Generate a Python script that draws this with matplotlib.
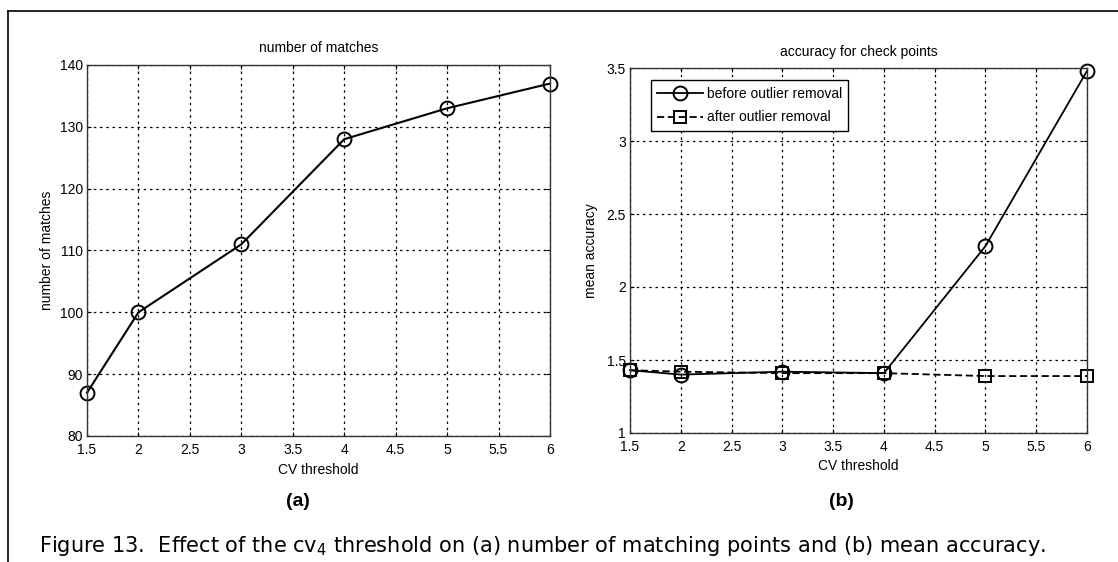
import matplotlib
matplotlib.use('Agg')
import matplotlib.pyplot as plt
from matplotlib.lines import Line2D

# data
cv = [1.5, 2, 3, 4, 5, 6]
matches = [87, 100, 111, 128, 133, 137]
acc_before = [1.43, 1.40, 1.42, 1.41, 2.28, 3.48]
acc_after = [1.43, 1.42, 1.41, 1.41, 1.39, 1.39]
xticks = [1.5, 2, 2.5, 3, 3.5, 4, 4.5, 5, 5.5, 6]
xticklabels = ['1.5', '2', '2.5', '3', '3.5', '4', '4.5', '5', '5.5', '6']

plt.rcParams['font.family'] = ['Liberation Sans Narrow', 'Liberation Sans', 'DejaVu Sans']

fig = plt.figure(figsize=(11.18, 5.62), dpi=100)
W, H = 1118, 562

def axes_px(l, t, r, b):
    return fig.add_axes([l / W, 1 - b / H, (r - l) / W, (b - t) / H])

def style(ax):
    ax.grid(True, color='black', linestyle=(0, (2, 3)), linewidth=0.9)
    ax.tick_params(direction='in', length=3, top=True, right=True, labelsize=10)
    ax.tick_params(axis='x', pad=5)
    ax.tick_params(axis='y', pad=3)
    for s in ax.spines.values():
        s.set_linewidth(1.0)
        s.set_color('#333333')
    ax.set_xticks(xticks)
    ax.set_xticklabels(xticklabels)
    ax.set_xlim(1.5, 6)

ax1 = axes_px(87, 65, 550, 436)
ax1.plot(cv, matches, color='black', lw=1.5, marker='o', ms=10, mfc='none', mec='black', mew=1.4, clip_on=False)
ax1.set_ylim(80, 140)
ax1.set_yticks([80, 90, 100, 110, 120, 130, 140])
style(ax1)
ax1.set_title('number of matches', fontsize=10, pad=9)
ax1.set_xlabel('CV threshold', fontsize=10, labelpad=4)
ax1.set_ylabel('number of matches', fontsize=10, labelpad=4)

ax2 = axes_px(630, 68, 1087, 433)
ax2.plot(cv, acc_before, color='black', lw=1.3, marker='o', ms=10, mfc='none', mec='black', mew=1.4,
         label='before outlier removal', clip_on=False)
ax2.plot(cv, acc_after, color='black', lw=1.3, ls=(0, (4, 2)), marker='s', ms=9, mfc='none', mec='black', mew=1.4,
         label='after outlier removal', clip_on=False)
ax2.set_ylim(1, 3.5)
ax2.set_yticks([1, 1.5, 2, 2.5, 3, 3.5])
ax2.set_yticklabels(['1', '1.5', '2', '2.5', '3', '3.5'])
style(ax2)
ax2.set_title('accuracy for check points', fontsize=10, pad=9)
ax2.set_xlabel('CV threshold', fontsize=10, labelpad=4)
ax2.set_ylabel('mean accuracy', fontsize=10, labelpad=6)
leg = ax2.legend(loc='upper left', bbox_to_anchor=(0.045, 0.966), fontsize=10, fancybox=False,
                 framealpha=1, edgecolor='black', borderpad=0.45, handlelength=3.3, labelspacing=0.7,
                 handletextpad=0.3, borderaxespad=0)
leg.get_frame().set_linewidth(1.0)

# panel letters and caption
fig.text(298 / W, 1 - 501 / H, '(a)', ha='center', va='center', fontsize=14, fontweight='bold',
         family=['Liberation Sans', 'DejaVu Sans'])
fig.text(841 / W, 1 - 501 / H, '(b)', ha='center', va='center', fontsize=14, fontweight='bold',
         family=['Liberation Sans', 'DejaVu Sans'])
fig.text(39 / W, 1 - 546 / H,
         'Figure 13.  Effect of the cv$_4$ threshold on (a) number of matching points and (b) mean accuracy.',
         ha='left', va='center', fontsize=15, family=['DejaVu Sans'])

# outer frame (top and left)
fig.add_artist(Line2D([8 / W, 1], [1 - 11 / H, 1 - 11 / H], color='black', lw=1.2))
fig.add_artist(Line2D([8 / W, 8 / W], [0, 1 - 11 / H], color='black', lw=1.2))

fig.savefig('out.png', dpi=100)
